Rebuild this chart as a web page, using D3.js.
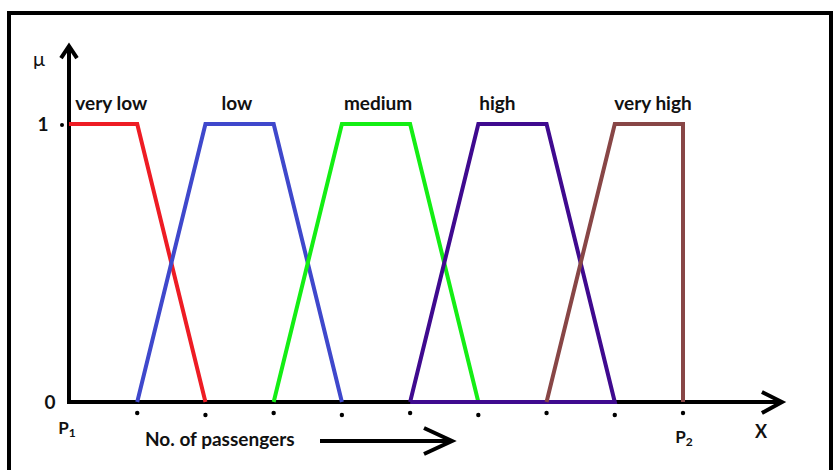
<!DOCTYPE html>
<html>
<head>
<meta charset="utf-8">
<script src="https://d3js.org/d3.v7.min.js"></script>
<style>
  body { margin: 0; background: #fff; }
  text { font-family: Lato, "Open Sans", sans-serif; font-weight: bold; fill: #111; }
</style>
</head>
<body>
<script>
// fuzzy sets: name, colour, points as [x, mu]
var setNames = ["very low", "low", "medium", "high", "very high"];
var setColors = ["#ee1c24", "#3f48cc", "#14ee14", "#3f0a8f", "#884646"];
var veryLow = [[0, 1], [1, 1], [2, 0]];
var low = [[1, 0], [2, 1], [3, 1], [4, 0]];
var medium = [[3, 0], [4, 1], [5, 1], [6, 0]];
var high = [[5, 0], [6, 1], [7, 1], [8, 0], [5, 0]];
var veryHigh = [[7, 0], [8, 1], [9, 1], [9, 0]];
var labelX = [0.62, 2.46, 4.53, 6.28, 8.56];
var tickPos = [1, 2, 3, 4, 5, 6, 7, 8, 9];
var endLabels = ["P", "P"];
var endSubs = ["1", "2"];

var sets = [veryLow, low, medium, high, veryHigh];

var W = 833, H = 470;
var svg = d3.select("body").append("svg")
  .attr("width", W).attr("height", H);

// frame
svg.append("rect")
  .attr("x", 9).attr("y", 13).attr("width", 822).attr("height", 500)
  .attr("fill", "none").attr("stroke", "#000").attr("stroke-width", 4);

var x = d3.scaleLinear().domain([0, 9]).range([69, 683]);
var y = d3.scaleLinear().domain([0, 1]).range([402, 124]);
var xEnd = x(10.45), yTop = y(1.28);

var line = d3.line().x(function (d) { return x(d[0]); }).y(function (d) { return y(d[1]); });

// axes
svg.append("line").attr("x1", x(0)).attr("y1", y(0)).attr("x2", x(0)).attr("y2", yTop)
  .attr("stroke", "#000").attr("stroke-width", 4);
svg.append("line").attr("x1", x(0) - 2).attr("y1", y(0)).attr("x2", xEnd).attr("y2", y(0))
  .attr("stroke", "#000").attr("stroke-width", 4);

// arrow heads
svg.append("path")
  .attr("d", "M" + (x(0) - 8) + "," + (yTop + 12) + "L" + x(0) + "," + yTop + "L" + (x(0) + 8) + "," + (yTop + 12))
  .attr("fill", "none").attr("stroke", "#000").attr("stroke-width", 4);
svg.append("path")
  .attr("d", "M" + (xEnd - 20) + "," + (y(0) - 10) + "L" + xEnd + "," + y(0) + "L" + (xEnd - 20) + "," + (y(0) + 11))
  .attr("fill", "none").attr("stroke", "#000").attr("stroke-width", 4);

// membership functions
svg.selectAll("path.mf")
  .data(sets)
  .enter().append("path")
  .attr("class", "mf")
  .attr("d", line)
  .attr("fill", "none")
  .attr("stroke", function (d, i) { return setColors[i]; })
  .attr("stroke-width", 4)
  .attr("stroke-linejoin", "miter");

svg.selectAll("text.name")
  .data(setNames)
  .enter().append("text")
  .attr("class", "name")
  .attr("x", function (d, i) { return x(labelX[i]); })
  .attr("y", 110)
  .attr("text-anchor", "middle")
  .style("font-size", "19px")
  .text(function (d) { return d; });

// tick dots
svg.selectAll("circle.tick")
  .data(tickPos)
  .enter().append("circle")
  .attr("cx", function (d) { return x(d); })
  .attr("cy", function (d, i) { return i % 2 ? 415 : 413; })
  .attr("r", 2.2)
  .attr("fill", "#000");

// y tick
svg.append("circle").attr("cx", x(0) - 7).attr("cy", y(1) + 1).attr("r", 2).attr("fill", "#000");
svg.append("text").attr("x", 43).attr("y", y(1) + 7).attr("text-anchor", "middle")
  .style("font-size", "19px").text("1");
svg.append("text").attr("x", 50).attr("y", y(0) + 7).attr("text-anchor", "middle")
  .style("font-size", "19px").text("0");
svg.append("text").attr("x", 39).attr("y", 66).attr("text-anchor", "middle")
  .style("font-size", "20px").style("font-weight", "normal").text("\u03bc");

// end labels
[[x(0) - 2, 434], [x(9) + 1, 443]].forEach(function (p, i) {
  var t = svg.append("text").attr("x", p[0]).attr("y", p[1]).attr("text-anchor", "middle")
    .style("font-size", "17px");
  t.append("tspan").text(endLabels[i]);
  t.append("tspan").attr("dy", 3).style("font-size", "12px").text(endSubs[i]);
});
svg.append("text").attr("x", 761).attr("y", 438).attr("text-anchor", "middle")
  .style("font-size", "18px").text("X");

// axis title with arrow
svg.append("text").attr("x", 145).attr("y", 446)
  .style("font-size", "19px").text("No. of  passengers");
svg.append("path")
  .attr("d", "M320,441L452,441M424,428L452,441L424,454")
  .attr("fill", "none").attr("stroke", "#000").attr("stroke-width", 4);
</script>
</body>
</html>
